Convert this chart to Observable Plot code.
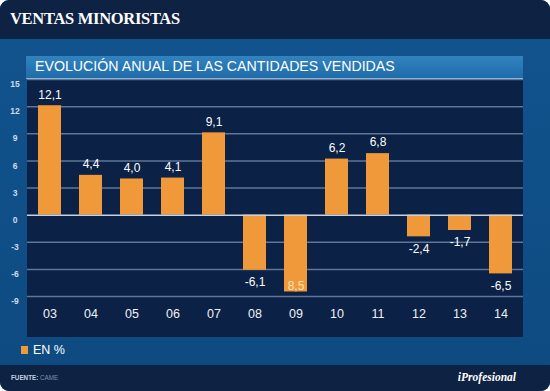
<!DOCTYPE html>
<html>
<head>
<meta charset="utf-8">
<script src="https://cdn.jsdelivr.net/npm/d3@7"></script>
<script src="https://cdn.jsdelivr.net/npm/@observablehq/plot@0.6"></script>
<style>
  html, body { margin: 0; padding: 0; background: #ffffff; }
  #wrap { position: relative; width: 550px; height: 391px; overflow: hidden; border-radius: 9px;
    background: linear-gradient(#12548f, #0d4a80); font-family: "Liberation Sans", Arial, sans-serif; }
  #hdr { position: absolute; left: 0; top: 0; width: 550px; height: 39px; background: #0e2244; }
  #hdr span { position: absolute; left: 10px; top: 9px; font-family: "Liberation Serif", "DejaVu Serif", serif;
    font-weight: bold; font-size: 16.5px; color: #ffffff; letter-spacing: -0.3px; }
  #band { position: absolute; left: 26px; top: 56px; width: 497px; height: 22px;
    background: linear-gradient(#3183c0, #1f6ca9); border-bottom: 1px solid #8db4d8; }
  #band span { position: absolute; left: 9px; top: 2px; font-size: 14.2px; color: #ffffff; }
  #panel { position: absolute; left: 27px; top: 79px; width: 496px; height: 258px; background: #0b2145; }
  #plot { position: absolute; left: 0; top: 79px; }
  #legend { position: absolute; left: 21px; top: 343px; font-size: 12.5px; color: #ffffff; }
  #legend i { display: inline-block; width: 7px; height: 8px; background: #f0993a; margin-right: 5px; }
  #foot { position: absolute; left: 0; top: 365px; width: 550px; height: 26px; background: #0e2244; }
  #foot .src { position: absolute; left: 11px; top: 9px; font-size: 6.3px; color: #c3d0e2; font-weight: bold; }
  #foot .src b { color: #c3d0e2; }
  #foot .src span { color: #7f92ad; font-weight: normal; }
  #foot .brand { position: absolute; right: 34px; top: 6px; font-family: "Liberation Serif", "DejaVu Serif", serif;
    font-style: italic; font-weight: bold; font-size: 11.5px; color: #ffffff; }
</style>
</head>
<body>
<div id="wrap">
  <div id="hdr"><span>VENTAS MINORISTAS</span></div>
  <div id="band"><span>EVOLUCIÓN ANUAL DE LAS CANTIDADES VENDIDAS</span></div>
  <div id="panel"></div>
  <div id="plot"></div>
  <div id="legend"><i></i>EN %</div>
  <div id="foot"><div class="src"><b>FUENTE:</b> <span>CAME</span></div><div class="brand">iProfesional</div></div>
</div>
<script>
const years = ["03","04","05","06","07","08","09","10","11","12","13","14"];
const values = [12.1, 4.4, 4.0, 4.1, 9.1, -6.1, -8.5, 6.2, 6.8, -2.4, -1.7, -6.5];
const labels = ["12,1","4,4","4,0","4,1","9,1","-6,1","8,5","6,2","6,8","-2,4","-1,7","-6,5"];
const yTicks = [-9, -6, -3, 0, 3, 6, 9, 12, 15];

const data = years.map((y, i) => ({year: y, value: values[i], label: labels[i]}));
const pos = data.filter(d => d.value >= 0);
const negOut = data.filter(d => d.value < 0 && d.label.startsWith("-"));
const negIn = data.filter(d => d.value < 0 && !d.label.startsWith("-"));

const chart = Plot.plot({
  width: 550,
  height: 258,
  marginLeft: 27,
  marginRight: 27,
  marginTop: 0,
  marginBottom: 41,
  style: {background: "transparent", fontFamily: "Liberation Sans, Arial, sans-serif"},
  x: {domain: years, paddingInner: 0.43, paddingOuter: 0.215, label: null},
  y: {domain: [-9, 15], label: null},
  marks: [
    Plot.ruleY(yTicks.filter(t => t !== 0), {stroke: "#5d7799", strokeWidth: 1.5}),
    Plot.barY(data, {x: "year", y: "value", fill: "#f0993a"}),
    Plot.ruleY([0], {stroke: "#c8d2df", strokeWidth: 1.5}),
    Plot.text(pos, {x: "year", y: "value", text: "label", dy: -11, fill: "#ffffff", fontSize: 12}),
    Plot.text(negOut, {x: "year", y: "value", text: "label", dy: 12, fill: "#ffffff", fontSize: 12}),
    Plot.text(negIn, {x: "year", y: "value", text: "label", dy: -6, fill: "#ffe0b8", fontSize: 12}),
    Plot.axisY(yTicks, {anchor: "left", tickSize: 0, tickPadding: 12.5, textAnchor: "middle", dy: 5,
      fill: "#cfdcec", fontSize: 8.5, fontWeight: "bold", tickFormat: d => String(d)}),
    Plot.axisX({anchor: "bottom", tickSize: 0, tickPadding: 13, fill: "#eef2f7", fontSize: 12.5})
  ]
});
document.getElementById("plot").appendChild(chart);
</script>
</body>
</html>
